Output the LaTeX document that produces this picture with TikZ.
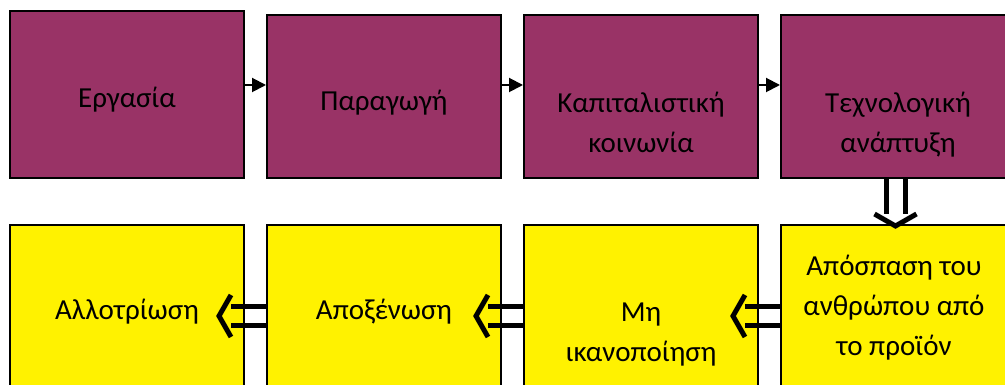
\documentclass[tikz,border=0pt]{standalone}
\usepackage{fontspec}
\setmainfont{Carlito}
\usetikzlibrary{arrows.meta}
\definecolor{plum}{HTML}{993366}
% double-lined open arrow: start point, direction
\newcommand{\dblarrow}[2]{
\begin{scope}[shift={#1},rotate=#2]
\draw[bar] (0,-9.5) -- (35,-9.5);
\draw[bar] (0,9.5) -- (35,9.5);
\draw[bar] (35,-21) -- (47,0) -- (35,21);
\end{scope}}
\tikzset{
  stage/.style={draw=black,line width=2pt,fill=plum,minimum width=234,minimum height=163,inner sep=0pt,anchor=north west},
  effect/.style={draw=black,line width=2pt,fill=yellow,minimum width=234,minimum height=168,inner sep=0pt,anchor=north west},
  caption/.style={font=\fontsize{29}{40}\selectfont,align=center,anchor=base,inner sep=0pt},
  flow/.style={line width=2pt,-{Triangle[length=14pt,width=14pt]}},
  bar/.style={line width=5pt}
}
\begin{document}
\begin{tikzpicture}[x=1pt,y=1pt]
\useasboundingbox (0,0) rectangle (1005,385);
\clip (0,0) rectangle (1005,385);
% top row
\node[stage,minimum height=167] (work) at (9,375) {};
\node[stage] (production) at (266,371) {};
\node[stage] (capitalism) at (523,371) {};
\node[stage] (technology) at (780,371) {};
\node[caption] (workT) at (work.center |- 0,277) {Εργασία};
\node[caption] (productionT) at (production.center |- 0,274) {Παραγωγή};
\node[caption] (capitalismT) at (capitalism.center |- 0,232) {Καπιταλιστική\\κοινωνία};
\node[caption] (technologyT) at (technology.center |- 0,232) {Τεχνολογική\\ανάπτυξη};
% bottom row
\node[effect] (alienation) at (9,161) {};
\node[effect] (estrangement) at (266,161) {};
\node[effect] (dissatisfaction) at (523,161) {};
\node[effect] (detachment) at (780,161) {};
\node[caption] (alienationT) at (alienation.center |- 0,65) {Αλλοτρίωση};
\node[caption] (estrangementT) at (estrangement.center |- 0,65) {Αποξένωση};
\node[caption] (dissatisfactionT) at (dissatisfaction.center |- 0,23) {Μη\\ικανοποίηση};
\node[caption] (detachmentT) at ([xshift=-4]detachment.center |- 0,29) {Απόσπαση του\\ανθρώπου από\\το προϊόν};
% arrows
\draw[flow] ([yshift=9.5]work.east) -- ([yshift=9.5]work.east -| production.west);
\draw[flow] ([yshift=11.5]production.east) -- ([yshift=11.5]production.east -| capitalism.west);
\draw[flow] ([yshift=11.5]capitalism.east) -- ([yshift=11.5]capitalism.east -| technology.west);
\dblarrow{([xshift=-2.5]technology.south)}{-90}
\dblarrow{([yshift=-7]detachment.west)}{180}
\dblarrow{([yshift=-7]dissatisfaction.west)}{180}
\dblarrow{([yshift=-7]estrangement.west)}{180}
\end{tikzpicture}
\end{document}
